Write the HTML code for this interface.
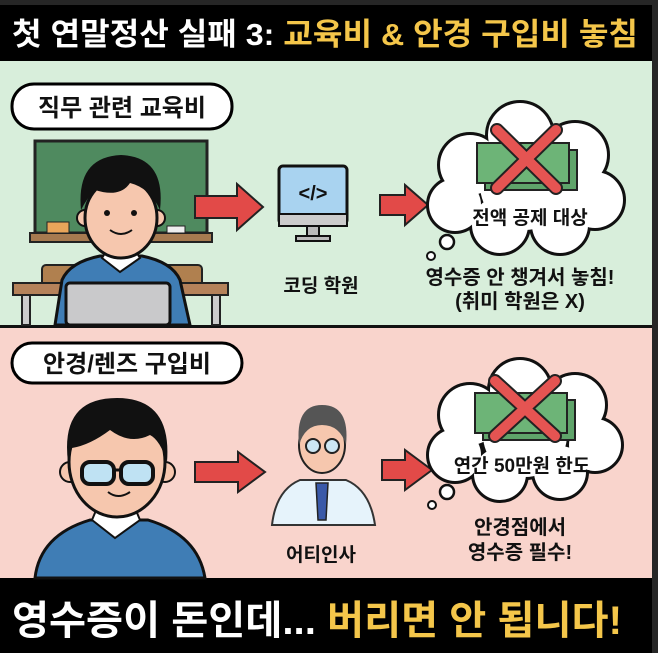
<!DOCTYPE html>
<html><head><meta charset="utf-8"><style>
html,body{margin:0;padding:0;background:#222}
svg{display:block}
text{font-family:"Liberation Sans","Noto Sans CJK KR",sans-serif;font-weight:bold}
</style></head><body>
<svg width="658" height="653" viewBox="0 0 658 653" xmlns="http://www.w3.org/2000/svg">
<rect width="658" height="653" fill="#262626"/>
<rect x="0" y="5" width="652" height="56" fill="#000"/>
<text x="12" y="45" font-size="31" fill="#fff" textLength="626" lengthAdjust="spacingAndGlyphs">첫 연말정산 실패 3: <tspan fill="#f4c64a">교육비 &amp; 안경 구입비 놓침</tspan></text>
<rect x="0" y="61" width="652" height="264" fill="#d8eedb"/>
<rect x="0" y="325" width="652" height="3" fill="#111"/>
<rect x="0" y="328" width="652" height="250" fill="#f9d4cc"/>
<rect x="0" y="578" width="652" height="75" fill="#000"/>
<text x="12" y="634" font-size="40" fill="#fff" textLength="610" lengthAdjust="spacingAndGlyphs">영수증이 돈인데... <tspan fill="#f4c64a">버리면 안 됩니다!</tspan></text>

<!-- pill 1 -->
<rect x="12" y="84" width="220" height="45" rx="22" fill="#fff" stroke="#000" stroke-width="3"/>
<text x="122" y="116" font-size="24" text-anchor="middle" fill="#111">직무 관련 교육비</text>
<!-- chalkboard -->
<rect x="35" y="141" width="172" height="92" fill="#4f8a5f" stroke="#222" stroke-width="3"/>
<rect x="30" y="233" width="182" height="9" fill="#a67a50" stroke="#222" stroke-width="2"/>
<rect x="47" y="222" width="22" height="11" fill="#e9a55a" stroke="#222" stroke-width="1"/>
<rect x="167" y="226" width="18" height="7" fill="#eee" stroke="#222" stroke-width="1"/>
<!-- desk -->
<rect x="42" y="265" width="160" height="25" rx="4" fill="#b0804f" stroke="#222" stroke-width="2"/>
<rect x="13" y="283" width="215" height="12" fill="#b5825a" stroke="#222" stroke-width="2"/>
<rect x="22" y="295" width="8" height="30" fill="#ccc" stroke="#222" stroke-width="2"/>
<rect x="212" y="295" width="8" height="30" fill="#ccc" stroke="#222" stroke-width="2"/>
<!-- person 1 -->
<path d="M55 325 L62 280 Q70 262 100 256 L142 256 Q172 262 180 280 L190 325 Z" fill="#3f7db5" stroke="#111" stroke-width="3"/>
<path d="M102 258 L120 272 L140 258 L135 250 L107 250 Z" fill="#fff" stroke="#111" stroke-width="2"/>
<circle cx="85" cy="218" r="8" fill="#f6c7ae" stroke="#111" stroke-width="2"/>
<circle cx="157" cy="218" r="8" fill="#f6c7ae" stroke="#111" stroke-width="2"/>
<ellipse cx="121" cy="218" rx="36" ry="40" fill="#f6c7ae" stroke="#111" stroke-width="3"/>
<path d="M81 210 Q76 157 121 155 Q166 157 160 210 Q150 188 130 183 Q120 198 95 190 Q87 198 81 210 Z" fill="#111"/>
<circle cx="107" cy="213" r="3" fill="#111"/><circle cx="134" cy="213" r="3" fill="#111"/>
<path d="M110 230 Q121 238 132 230" fill="none" stroke="#111" stroke-width="2"/>
<rect x="66" y="283" width="104" height="42" rx="4" fill="#c9c9cb" stroke="#111" stroke-width="3"/>
<!-- arrow 1 -->
<path d="M195 196 L237 196 L237 184 L263 207 L237 230 L237 218 L195 218 Z" fill="#e24a48" stroke="#222" stroke-width="2"/>
<!-- monitor -->
<rect x="279" y="166" width="68" height="58" rx="4" fill="#a9d3f0" stroke="#111" stroke-width="3"/>
<rect x="279" y="214" width="68" height="12" fill="#ccc" stroke="#111" stroke-width="2"/>
<rect x="307" y="226" width="12" height="10" fill="#bbb" stroke="#111" stroke-width="2"/>
<rect x="296" y="236" width="34" height="5" fill="#bbb" stroke="#111" stroke-width="2"/>
<text x="313" y="200" font-size="20" text-anchor="middle" fill="#111" font-weight="normal">&lt;/&gt;</text>
<text x="321" y="292" font-size="19" text-anchor="middle" fill="#111">코딩 학원</text>
<!-- arrow 2 -->
<path d="M380 195 L405 195 L405 185 L428 205 L405 225 L405 215 L380 215 Z" fill="#e24a48" stroke="#222" stroke-width="2"/>
<!-- cloud 1 -->
<g stroke="#111" stroke-width="6" fill="#111">
<circle cx="470" cy="165" r="30"/><circle cx="520" cy="135" r="32"/><circle cx="575" cy="155" r="32"/><circle cx="595" cy="200" r="28"/><circle cx="560" cy="225" r="28"/><circle cx="500" cy="225" r="28"/><circle cx="455" cy="205" r="26"/><circle cx="525" cy="185" r="45"/>
</g>
<g fill="#fff">
<circle cx="470" cy="165" r="30"/><circle cx="520" cy="135" r="32"/><circle cx="575" cy="155" r="32"/><circle cx="595" cy="200" r="28"/><circle cx="560" cy="225" r="28"/><circle cx="500" cy="225" r="28"/><circle cx="455" cy="205" r="26"/><circle cx="525" cy="185" r="45"/>
</g>
<circle cx="447" cy="242" r="7" fill="#fff" stroke="#111" stroke-width="2.5"/>
<circle cx="431" cy="256" r="4" fill="#fff" stroke="#111" stroke-width="2"/>
<rect x="485" y="150" width="92" height="40" fill="#5fa46a" stroke="#222" stroke-width="2"/>
<rect x="477" y="143" width="92" height="40" fill="#6db477" stroke="#222" stroke-width="2"/>
<path d="M497 130 L556 188 M556 130 L497 188" stroke="#222" stroke-width="14" stroke-linecap="round"/>
<path d="M497 130 L556 188 M556 130 L497 188" stroke="#e55452" stroke-width="10" stroke-linecap="round"/>
<text x="530" y="224" font-size="19" text-anchor="middle" fill="#111">전액 공제 대상</text>
<text x="520" y="284" font-size="20" text-anchor="middle" fill="#111">영수증 안 챙겨서 놓침!</text>
<text x="520" y="308" font-size="20" text-anchor="middle" fill="#111">(취미 학원은 X)</text>

<!-- pill 2 -->
<rect x="12" y="343" width="230" height="40" rx="20" fill="#fff" stroke="#000" stroke-width="3"/>
<text x="127" y="372" font-size="24" text-anchor="middle" fill="#111">안경/렌즈 구입비</text>
<!-- person 2 -->
<path d="M35 578 Q40 535 90 520 L148 520 Q198 535 205 578 Z" fill="#3f7db5" stroke="#111" stroke-width="3"/>
<path d="M92 520 L115 538 L140 520 L135 508 L97 508 Z" fill="#fff" stroke="#111" stroke-width="2"/>
<circle cx="70" cy="472" r="10" fill="#f6c7ae" stroke="#111" stroke-width="2"/>
<circle cx="165" cy="472" r="10" fill="#f6c7ae" stroke="#111" stroke-width="2"/>
<ellipse cx="117" cy="462" rx="48" ry="55" fill="#f6c7ae" stroke="#111" stroke-width="3"/>
<path d="M68 462 Q60 398 117 398 Q172 398 167 462 Q160 440 150 435 Q130 445 110 430 Q90 445 72 448 Z" fill="#111"/>
<rect x="82" y="462" width="32" height="22" rx="8" fill="#bfe2f3" stroke="#111" stroke-width="4"/>
<rect x="121" y="462" width="32" height="22" rx="8" fill="#bfe2f3" stroke="#111" stroke-width="4"/>
<path d="M114 470 L121 470" stroke="#111" stroke-width="3"/>
<path d="M108 492 Q118 500 130 492" fill="none" stroke="#111" stroke-width="2"/>
<!-- arrow 3 -->
<path d="M195 462 L238 462 L238 452 L265 472 L238 492 L238 482 L195 482 Z" fill="#e24a48" stroke="#222" stroke-width="2"/>
<!-- doctor -->
<path d="M272 525 Q276 490 300 480 L346 480 Q370 490 375 525 Z" fill="#e6f3fb" stroke="#333" stroke-width="2"/>
<path d="M316 483 L328 483 L326 520 L318 520 Z" fill="#3a59a8" stroke="#222" stroke-width="1.5"/>
<ellipse cx="322" cy="445" rx="23" ry="28" fill="#f6c7ae" stroke="#222" stroke-width="2"/>
<path d="M299 445 Q295 405 322 405 Q350 405 346 445 Q340 425 322 425 Q305 425 299 445 Z" fill="#555"/>
<circle cx="313" cy="446" r="7" fill="#cce6f3" stroke="#222" stroke-width="2"/>
<circle cx="332" cy="446" r="7" fill="#cce6f3" stroke="#222" stroke-width="2"/>
<text x="321" y="561" font-size="19" text-anchor="middle" fill="#111">어티인사</text>
<!-- arrow 4 -->
<path d="M382 460 L405 460 L405 450 L432 470 L405 490 L405 480 L382 480 Z" fill="#e24a48" stroke="#222" stroke-width="2"/>
<!-- cloud 2 -->
<g stroke="#111" stroke-width="6" fill="#111">
<circle cx="470" cy="415" r="30"/><circle cx="520" cy="390" r="30"/><circle cx="575" cy="405" r="30"/><circle cx="595" cy="445" r="26"/><circle cx="560" cy="472" r="26"/><circle cx="500" cy="474" r="26"/><circle cx="455" cy="455" r="26"/><circle cx="525" cy="435" r="42"/>
</g>
<g fill="#fff">
<circle cx="470" cy="415" r="30"/><circle cx="520" cy="390" r="30"/><circle cx="575" cy="405" r="30"/><circle cx="595" cy="445" r="26"/><circle cx="560" cy="472" r="26"/><circle cx="500" cy="474" r="26"/><circle cx="455" cy="455" r="26"/><circle cx="525" cy="435" r="42"/>
</g>
<circle cx="447" cy="492" r="7" fill="#fff" stroke="#111" stroke-width="2.5"/>
<circle cx="432" cy="505" r="4" fill="#fff" stroke="#111" stroke-width="2"/>
<rect x="483" y="400" width="92" height="40" fill="#5fa46a" stroke="#222" stroke-width="2"/>
<rect x="475" y="393" width="92" height="40" fill="#6db477" stroke="#222" stroke-width="2"/>
<path d="M495 381 L555 436 M555 381 L495 436" stroke="#222" stroke-width="14" stroke-linecap="round"/>
<path d="M495 381 L555 436 M555 381 L495 436" stroke="#e55452" stroke-width="10" stroke-linecap="round"/>
<text x="522" y="472" font-size="19" text-anchor="middle" fill="#111">연간 50만원 한도</text>
<text x="520" y="534" font-size="20" text-anchor="middle" fill="#111">안경점에서</text>
<text x="520" y="559" font-size="20" text-anchor="middle" fill="#111">영수증 필수!</text>
</svg>
</body></html>
